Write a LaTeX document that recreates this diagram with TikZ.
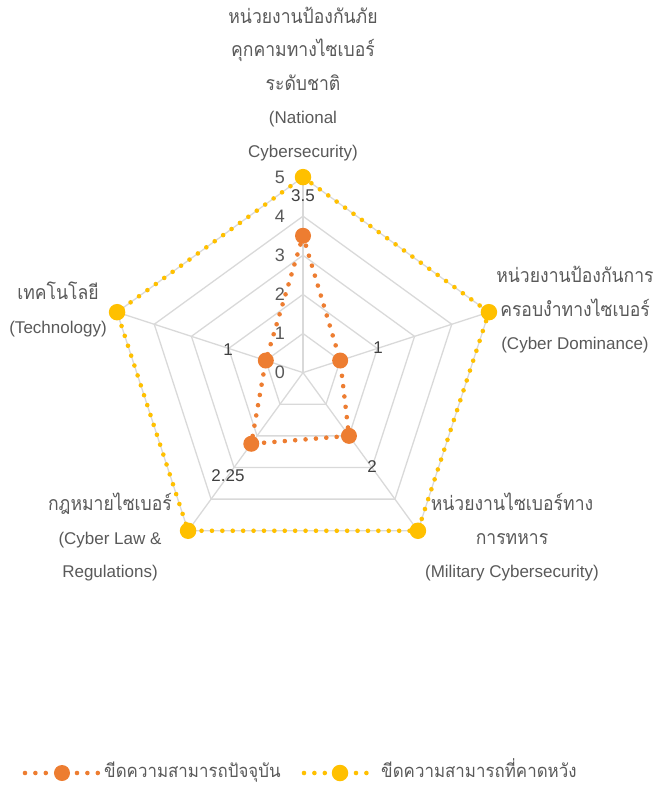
\documentclass[tikz,border=0pt]{standalone}
\usepackage{fontspec}
\setmainfont{Liberation Sans}
\newfontfamily\thaifont[Script=Thai,Scale=1.15,FakeStretch=0.9]{Loma}
\newfontfamily\thaileg[Script=Thai,Scale=1.08,FakeStretch=0.92]{Loma}
\usetikzlibrary{calc}
\definecolor{orangeS}{HTML}{ED7D31}
\definecolor{yellowS}{HTML}{FFC000}
\definecolor{gridc}{HTML}{D9D9D9}
\definecolor{txt}{HTML}{595959}
\definecolor{dtxt}{HTML}{404040}
\tikzset{
  gridline/.style={draw=gridc, line width=1.3bp},
  odots/.style={draw=orangeS, line width=4.6bp, line cap=round, dash pattern=on 0bp off 10.4bp},
  ydots/.style={draw=yellowS, line width=4.6bp, line cap=round, dash pattern=on 0bp off 10.4bp},
  omark/.style={circle, fill=orangeS, minimum size=16bp, inner sep=0},
  ymark/.style={circle, fill=yellowS, minimum size=16.5bp, inner sep=0},
  axlab/.style={text=txt, align=center, inner sep=0, font=\fontsize{17bp}{33.5bp}\selectfont},
  ticklab/.style={text=txt, anchor=east, inner sep=0, font=\fontsize{18bp}{20bp}\selectfont},
  datlab/.style={text=dtxt, inner sep=0, font=\fontsize{17bp}{20bp}\selectfont},
  leglab/.style={text=txt, anchor=west, inner sep=0, text height=12bp, text depth=4bp, font=\fontsize{17bp}{20bp}\selectfont\thaileg},
}
\begin{document}
\begin{tikzpicture}[x=1bp,y=-1bp]
\useasboundingbox (0,0) rectangle (657,786);
\coordinate (C) at (303,372.6);
\def\u{39.1}
% grid
\begin{scope}[shift={(C)}]
\foreach \k in {1,...,5}{
  \draw[gridline] (270:\k*\u) -- (342:\k*\u) -- (54:\k*\u) -- (126:\k*\u) -- (198:\k*\u) -- cycle;
}
\foreach \a in {270,342,54,126,198}{
  \draw[gridline] (0,0) -- (\a:5*\u);
}
% series coordinates
\coordinate (y1) at (270:5*\u);
\coordinate (y2) at (342:5*\u);
\coordinate (y3) at (54:5*\u);
\coordinate (y4) at (126:5*\u);
\coordinate (y5) at (198:5*\u);
\coordinate (o1) at (270:3.5*\u);
\coordinate (o2) at (342:1*\u);
\coordinate (o3) at (54:2*\u);
\coordinate (o4) at (126:2.25*\u);
\coordinate (o5) at (198:1*\u);
\end{scope}
% series lines
\draw[ydots] (y1) -- (y2) -- (y3) -- (y4) -- (y5) -- cycle;
\draw[odots] (o1) -- (o2) -- (o3) -- (o4) -- (o5) -- cycle;
% markers
\foreach \i in {1,...,5}{
  \node[ymark] (ym\i) at (y\i) {};
  \node[omark] (om\i) at (o\i) {};
}
% tick labels
\foreach \k in {0,...,5}{
  \node[ticklab] (t\k) at (285,372-39*\k) {\k};
}
% data labels
\node[datlab] (d1) at (303,196) {3.5};
\node[datlab] (d2) at (378,348) {1};
\node[datlab] (d3) at (372,467) {2};
\node[datlab] (d4) at (228,476) {2.25};
\node[datlab] (d5) at (228,350) {1};
% axis labels
\node[axlab] (l1) at (303,84) {{\thaifont หน่วยงานป้องกันภัย}\\{\thaifont คุกคามทางไซเบอร์}\\{\thaifont ระดับชาติ}\\(National\\Cybersecurity)};
\node[axlab] (l2) at (575,310) {{\thaifont หน่วยงานป้องกันการ}\\{\thaifont ครอบงำทางไซเบอร์}\\(Cyber Dominance)};
\node[axlab] (l3) at (512,537) {{\thaifont หน่วยงานไซเบอร์ทาง}\\{\thaifont การทหาร}\\(Military Cybersecurity)};
\node[axlab] (l4) at (110,537) {{\thaifont กฎหมายไซเบอร์}\\(Cyber Law \&\\Regulations)};
\node[axlab] (l5) at (58,309.5) {{\thaifont เทคโนโลยี}\\(Technology)};
% legend
\coordinate (la) at (25,773);
\coordinate (lb) at (99,773);
\draw[odots] (la) -- (lb);
\node[omark] (lom) at (62,773) {};
\node[leglab] (lt1) at (104,773) {ขีดความสามารถปัจจุบัน};
\coordinate (lc) at (304,773);
\coordinate (ld) at (374,773);
\draw[ydots] (lc) -- (ld);
\node[ymark] (lym) at (340,773) {};
\node[leglab] (lt2) at (381,773) {ขีดความสามารถที่คาดหวัง};
\end{tikzpicture}
\end{document}
